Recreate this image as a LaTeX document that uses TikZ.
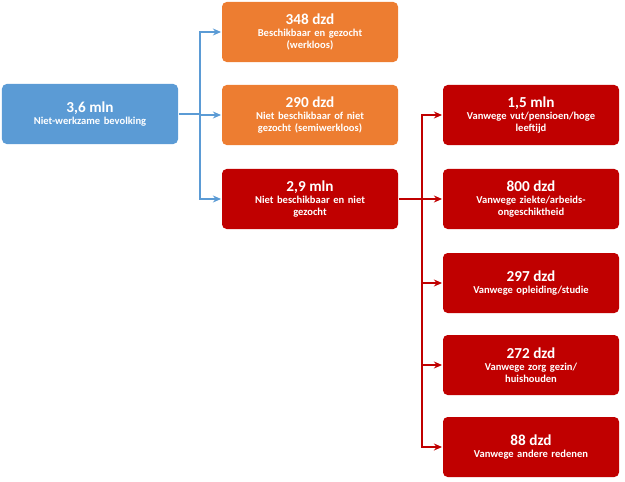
\documentclass[tikz,border=0pt]{standalone}
\usepackage{fontspec}
\setmainfont{Carlito}
\definecolor{blauw}{RGB}{91,155,213}
\definecolor{oranje}{RGB}{237,125,49}
\definecolor{rood}{RGB}{192,0,0}
\usetikzlibrary{arrows.meta}
\begin{document}
\begin{tikzpicture}[x=0.03cm,y=-0.03cm,line width=1.6pt]
	\tikzstyle{blok}=[rounded corners=4pt,minimum width=5.28cm,minimum height=1.8cm,text width=5cm,align=center,text=white,font=\bfseries\fontsize{9}{10}\selectfont,inner sep=2pt];
	\tikzstyle{pijl}=[-{Stealth[length=7pt,width=6pt]}];
	\newcommand{\kop}[1]{{\fontsize{13}{15}\selectfont #1}\\}
%<--------------------------------------------------------------------------->%
	\useasboundingbox (0,0) rectangle (625,481);
	\node[blok,fill=blauw]  (nw) at (90,114) {\kop{3,6 mln}Niet-werkzame bevolking};
	\node[blok,fill=oranje] (wl) at (310,32)  {\kop{348 dzd}Beschikbaar en gezocht\\(werkloos)};
	\node[blok,fill=oranje] (sw) at (310,115) {\kop{290 dzd}Niet beschikbaar of niet\\gezocht (semiwerkloos)};
	\node[blok,fill=rood]   (nb) at (310,199) {\kop{2,9 mln}Niet beschikbaar en niet\\gezocht};
	\node[blok,fill=rood] (r1) at (531,115) {\kop{1,5 mln}Vanwege vut/pensioen/hoge\\leeftijd};
	\node[blok,fill=rood] (r2) at (531,199) {\kop{800 dzd}Vanwege ziekte/arbeids-\\ongeschiktheid};
	\node[blok,fill=rood] (r3) at (531,283) {\kop{297 dzd}Vanwege opleiding/studie};
	\node[blok,fill=rood] (r4) at (531,365) {\kop{272 dzd}Vanwege zorg gezin/\\huishouden};
	\node[blok,fill=rood] (r5) at (531,447) {\kop{88 dzd}Vanwege andere redenen};
	%% verbindingen
	\coordinate (b) at (200,114);
	\coordinate (r) at (422,199);
	\draw[blauw] (nw.east) -- (b);
	\foreach \n in {wl,sw,nb}
		\draw[blauw,pijl] (b) |- (\n.west);
	\draw[rood] (nb.east) -- (r);
	\foreach \n in {r1,r2,r3,r4,r5}
		\draw[rood,pijl] (r) |- (\n.west);
\end{tikzpicture}
\end{document}
